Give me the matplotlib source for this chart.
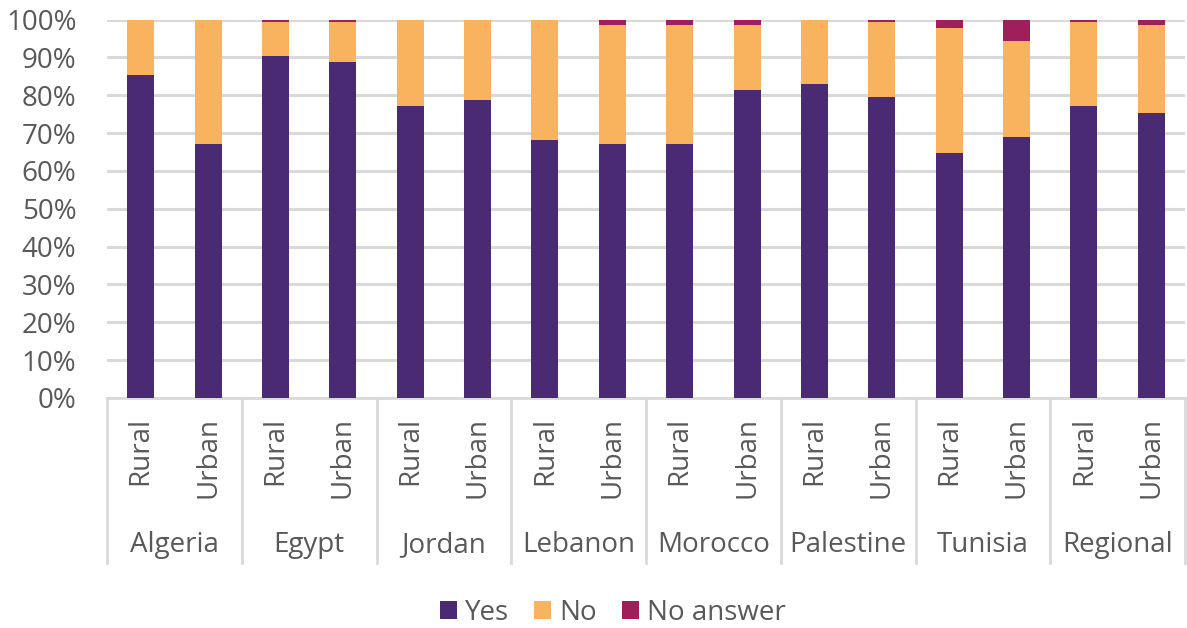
import matplotlib
matplotlib.use("Agg")
import matplotlib.pyplot as plt
import matplotlib.transforms as mtransforms
from matplotlib.patches import Patch
import numpy as np

plt.rcParams['font.family'] = ['Open Sans', 'DejaVu Sans']

countries = ["Algeria", "Egypt", "Jordan", "Lebanon", "Morocco", "Palestine", "Tunisia", "Regional"]
areas = ["Rural", "Urban"]
yes = [85.3, 67.2, 90.3, 88.7, 77.2, 78.8, 68.1, 67.2, 67.2, 81.3, 82.9, 79.6, 64.8, 68.9, 77.1, 75.4]
no_answer = [0.0, 0.0, 0.7, 0.7, 0.0, 0.0, 0.0, 1.5, 1.5, 1.5, 0.0, 0.6, 2.3, 5.6, 0.6, 1.5]
no = [100 - y - n for y, n in zip(yes, no_answer)]
yticks = [0, 10, 20, 30, 40, 50, 60, 70, 80, 90, 100]

c_yes = "#4A2A72"
c_no = "#F9B35E"
c_na = "#9E1F5A"
grey = "#D9D9D9"
txt = "#595959"
FS = 20

W, H = 1187, 628
fig = plt.figure(figsize=(W / 100, H / 100), dpi=100)
left, right, top, bottom = 107, 1185, 19.5, 398
ax = fig.add_axes([left / W, 1 - bottom / H, (right - left) / W, (bottom - top) / H])

n = len(yes)
x = np.arange(n)
bw = 0.4
ax.bar(x, yes, bw, color=c_yes, zorder=3, label="Yes")
ax.bar(x, no, bw, bottom=yes, color=c_no, zorder=3, label="No")
ax.bar(x, no_answer, bw, bottom=np.array(yes) + np.array(no), color=c_na, zorder=3, label="No answer")

ax.set_xlim(-0.5, n - 0.5)
ax.set_ylim(0, 100)
ax.set_yticks(yticks)
ax.set_yticklabels([f"{t}%" for t in yticks], fontsize=FS, color=txt)
ax.tick_params(axis='y', length=0, pad=22)
ax.yaxis.grid(True, color=grey, linewidth=2.2, zorder=0)
ax.set_xticks([])
for s in ['top', 'right', 'left']:
    ax.spines[s].set_visible(False)
ax.spines['bottom'].set_color(grey)
ax.spines['bottom'].set_linewidth(2)

trans = mtransforms.blended_transform_factory(ax.transData, fig.transFigure)
def fy(py):
    return 1 - py / H

for i in range(n):
    ax.text(x[i], fy(417), areas[i % 2], transform=trans, rotation=90,
            ha='center', va='top', fontsize=FS, color=txt)
for g, c in enumerate(countries):
    ax.text(2 * g + 0.5, fy(545), c, transform=trans, ha='center', va='center',
            fontsize=FS, color=txt)
for g in range(len(countries) + 1):
    xb = 2 * g - 0.5
    ax.plot([xb, xb], [fy(bottom), fy(563)], transform=trans, color=grey,
            linewidth=2, clip_on=False)

handles = [Patch(facecolor=c_yes, label="Yes"), Patch(facecolor=c_no, label="No"),
           Patch(facecolor=c_na, label="No answer")]
fig.legend(handles=handles, loc='center', bbox_to_anchor=(613 / W, fy(613)), ncol=3,
           frameon=False, fontsize=FS, labelcolor=txt, handlelength=0.6,
           handleheight=0.6, handletextpad=0.3, columnspacing=0.9)

fig.savefig("out.png", dpi=100)
